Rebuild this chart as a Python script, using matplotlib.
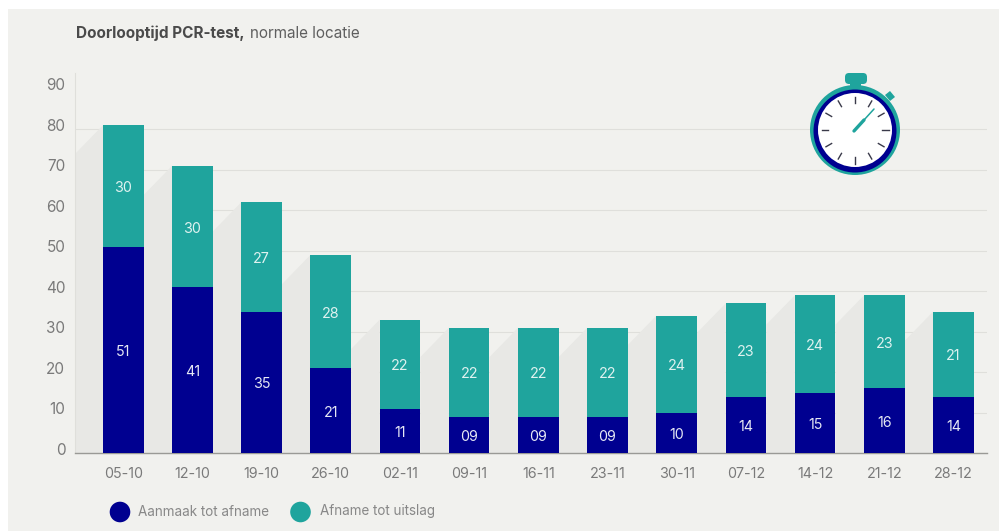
import matplotlib
matplotlib.use("Agg")
import matplotlib.pyplot as plt
from matplotlib.patches import Circle, Rectangle, FancyBboxPatch, Polygon
from matplotlib.transforms import ScaledTranslation
import numpy as np

weeks = ["05-10","12-10","19-10","26-10","02-11","09-11","16-11","23-11","30-11","07-12","14-12","21-12","28-12"]
aanmaak = [51,41,35,21,11,9,9,9,10,14,15,16,14]
afname = [30,30,27,28,22,22,22,22,24,23,24,23,21]
labels_a = ["51","41","35","21","11","09","09","09","10","14","15","16","14"]
labels_b = ["30","30","27","28","22","22","22","22","24","23","24","23","21"]
yticks = list(range(0,100,10))

NAVY = "#000090"
TEAL = "#1fa49d"
BG = "#f1f1ee"
GRID = "#dfdfdb"
SHADOW = "#e8e8e5"
TXT = "#7a7a7a"
plt.rcParams['font.family'] = ['Inter', 'DejaVu Sans']

W, H = 999, 531
fig = plt.figure(figsize=(W/100, H/100), dpi=100, facecolor="white")

# pixel overlay: background
bgax = fig.add_axes([0,0,1,1], zorder=0)
bgax.set_xlim(0,W); bgax.set_ylim(H,0); bgax.axis("off")
bgax.add_patch(Rectangle((8,9),991,522,fc=BG,ec="none"))

# chart axes
x0, x1, y0, ytop = 75, 987, 453.3, 73
ax = fig.add_axes([x0/W, 1-y0/H, (x1-x0)/W, (y0-ytop)/H], zorder=1)
ax.patch.set_alpha(0)
ax.set_xlim(-0.697, 12.485)
ax.set_ylim(0, 93.9)
x = np.arange(len(weeks))
bw = 0.587
totals = np.array(aanmaak)+np.array(afname)
for xi, t in zip(x, totals):
    left = xi-bw/2
    dx, dy = 0.41, 7.2
    ax.add_patch(Polygon([(left,t),(left-dx,t-dy),(left-dx,0),(left,0)],fc=SHADOW,ec="none",zorder=1.5))
ax.bar(x, aanmaak, bw, color=NAVY, zorder=3, label="Aanmaak tot afname")
ax.bar(x, afname, bw, bottom=aanmaak, color=TEAL, zorder=3, label="Afname tot uitslag")
for xi,a,b,la,lb in zip(x,aanmaak,afname,labels_a,labels_b):
    ax.text(xi,a/2-0.5,la,ha="center",va="center",color="#e6e8f4",fontsize=10.3,zorder=4)
    ax.text(xi,a+b/2-0.5,lb,ha="center",va="center",color="#dff2f0",fontsize=10.3,zorder=4)
ax.set_yticks(yticks)
ax.set_xticks(x, weeks)
ax.tick_params(length=0, labelcolor=TXT)
ax.tick_params(axis="x", pad=10, labelsize=10.3)
ax.tick_params(axis="y", pad=7, labelsize=11)
shift = ScaledTranslation(0, 4.5/100, fig.dpi_scale_trans)
for lab in ax.get_yticklabels():
    lab.set_transform(lab.get_transform()+shift)
ax.yaxis.grid(True,color=GRID,lw=0.8,zorder=1)
ax.get_ygridlines()[-1].set_visible(False)
ax.set_axisbelow(True)
for s in ["top","right"]:
    ax.spines[s].set_visible(False)
ax.spines["left"].set_color(GRID)
ax.spines["bottom"].set_color("#9a9a96")
ax.spines["bottom"].set_linewidth(1)

# overlay: title, legend, stopwatch
top = fig.add_axes([0,0,1,1], zorder=2)
top.set_xlim(0,W); top.set_ylim(H,0); top.axis("off")
top.text(76,33,"Doorlooptijd PCR-test,",fontsize=11,fontweight="bold",color="#4a4a4a",va="center")
top.text(250,33,"normale locatie",fontsize=11,color="#5f5f5f",va="center")

for cx,col,lab,tx in [(120,NAVY,"Aanmaak tot afname",138),(300.5,TEAL,"Afname tot uitslag",320)]:
    top.add_patch(Circle((cx,512),10.3,fc=col,ec="none"))
    top.text(tx,511.5,lab,fontsize=9.7,color="#888888",va="center")

# stopwatch
cx, cy = 855, 130
top.add_patch(Rectangle((850,80),11,10,fc=TEAL,ec="none"))
top.add_patch(FancyBboxPatch((845,73),22,11,boxstyle="round,pad=0,rounding_size=4",fc=TEAL,ec="none"))
top.add_patch(Polygon([(879,100),(884,96),(890,102),(884,107)],fc=TEAL,ec="none"))
top.add_patch(Polygon([(885,95),(890,91),(895,97),(890,101)],fc=TEAL,ec="none"))
top.add_patch(Circle((cx,cy),45,fc=TEAL,ec="none"))
top.add_patch(Circle((cx,cy+1),41.5,fc=NAVY,ec="none"))
top.add_patch(Circle((cx,cy),37,fc="white",ec="none"))
for ang in range(0,360,30):
    a = np.deg2rad(ang)
    top.plot([cx+np.cos(a)*27,cx+np.cos(a)*33.5],[cy+np.sin(a)*27,cy+np.sin(a)*33.5],color="#3a3a4a",lw=1)
top.plot([854,874],[131,109],color=TEAL,lw=1.1,solid_capstyle="round")
top.plot([854,864],[131,120],color=TEAL,lw=2.4,solid_capstyle="round")

fig.savefig("out.png",dpi=100,facecolor="white")
